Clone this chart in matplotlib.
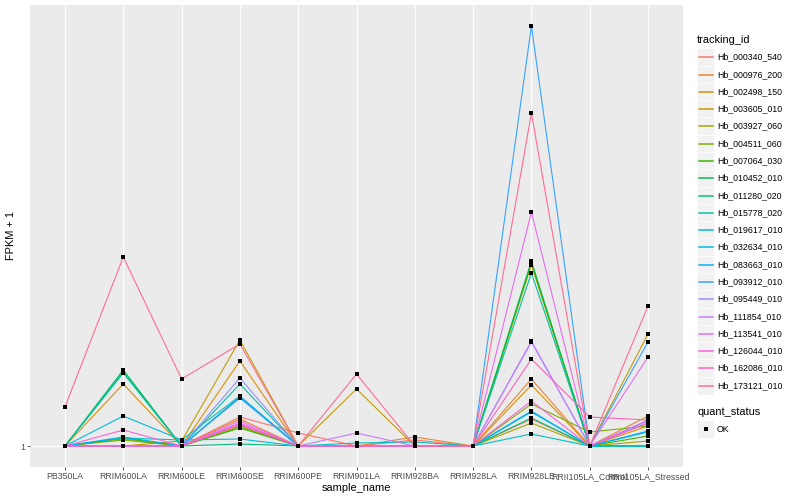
import numpy as np
import matplotlib
matplotlib.use("Agg")
import matplotlib.pyplot as plt
from matplotlib.lines import Line2D
from matplotlib.patches import Rectangle

plt.rcParams['font.family'] = ['Liberation Sans', 'DejaVu Sans']

samples = ["PB350LA", "RRIM600LA", "RRIM600LE", "RRIM600SE", "RRIM600PE",
           "RRIM901LA", "RRIM928BA", "RRIM928LA", "RRIM928LE",
           "RRII105LA_Control", "RRII105LA_Stressed"]

tracking_ids = ["Hb_000340_540", "Hb_000976_200", "Hb_002498_150", "Hb_003605_010",
                "Hb_003927_060", "Hb_004511_060", "Hb_007064_030", "Hb_010452_010",
                "Hb_011280_020", "Hb_015778_020", "Hb_019617_010", "Hb_032634_010",
                "Hb_083663_010", "Hb_093912_010", "Hb_095449_010", "Hb_111854_010",
                "Hb_113541_010", "Hb_126044_010", "Hb_162086_010", "Hb_173121_010"]

# ggplot hue palette, 20 levels
colors = ["#F8766D", "#EA8331", "#D89000", "#C09B00", "#A3A500", "#7CAE00",
          "#39B600", "#00BB4E", "#00BF7D", "#00C1A3", "#00BFC4", "#00BAE0",
          "#00B0F6", "#35A2FF", "#9590FF", "#C77CFF", "#E76BF3", "#FA62DB",
          "#FF62BC", "#FF6C91"]

# FPKM + 1, one row per tracking_id, columns follow samples
fpkm = [
    [1, 1, 1, 3.9, 2.3, 1, 1.6, 1, 3.7, 1, 3.3],
    [1, 1, 1, 3.7, 1, 1, 1.9, 1, 7.7, 1, 4.0],
    [1, 7.2, 1, 9.5, 1, 1, 1, 1, 7.1, 1, 3.0],
    [1, 1, 1.5, 11.6, 1, 6.7, 1, 1, 19.1, 1, 12.2],
    [1, 1.7, 1, 3.0, 1, 1, 1, 1, 3.3, 1, 1.5],
    [1, 1.6, 1, 2.9, 1, 1, 1, 1, 5.2, 2.4, 3.0],
    [1, 1.8, 1, 2.8, 1, 1, 1, 1, 19.3, 1, 2.0],
    [1, 8.6, 1, 5.9, 1, 1, 1, 1, 19.5, 1, 1],
    [1, 8.4, 1, 1.2, 1, 1, 1, 1, 3.8, 1, 1],
    [1, 8.3, 1, 7.2, 1, 1, 1, 1, 18.3, 1, 1],
    [1, 1.8, 1.6, 6.0, 1, 1.3, 1.4, 1, 2.2, 1, 1],
    [1, 4.0, 1.6, 1.7, 1, 1, 1, 1, 4.4, 1, 2.4],
    [1, 1.9, 1, 5.9, 1, 1, 1, 1, 4.5, 1, 2.5],
    [1, 1, 1, 5.8, 1, 1, 1, 1, 43.0, 1, 11.4],
    [1, 1, 1, 7.8, 1, 1, 1, 1, 11.4, 1, 3.5],
    [1, 1, 1, 3.3, 1, 2.3, 1, 1, 11.5, 1, 3.6],
    [1, 1, 1, 3.5, 1, 1, 1, 1, 24.4, 1, 9.9],
    [1, 2.6, 1, 3.1, 1, 1, 1, 1, 5.5, 1, 3.3],
    [1, 1, 1, 3.2, 1, 1, 1, 1, 9.7, 3.9, 3.6],
    [4.9, 19.9, 7.7, 11.2, 1, 8.2, 1, 1, 34.3, 1, 15.0],
]

W, H = 800, 500
fig = plt.figure(figsize=(W / 72, H / 72), dpi=72)
fig.patch.set_facecolor("white")

# panel in pixels: x 30..683, y 5..467
ax = fig.add_axes([30 / W, (H - 467) / H, (683 - 30) / W, (467 - 5) / H])
ax.set_facecolor("#EBEBEB")

x = np.arange(len(samples))
for vals, col in zip(fpkm, colors):
    ax.plot(x, vals, color=col, lw=1.1, zorder=2)
for vals in fpkm:
    ax.plot(x, vals, ls="none", marker="s", ms=3.4, mew=0, color="black", zorder=3)

vmin = 1
vmax = max(max(r) for r in fpkm)
pad = (vmax - vmin) * 0.05
ax.set_ylim(vmin - pad, vmax + pad)
ax.set_xlim(-0.6, len(samples) - 0.4)

ax.set_xticks(x)
ax.set_xticklabels(samples)
ax.set_yticks([1])
ax.set_yticklabels(["1"])
ax.grid(True, color="white", lw=1.1, zorder=1)
ax.set_axisbelow(True)
for s in ax.spines.values():
    s.set_visible(False)
ax.tick_params(axis="both", length=2.75, width=0.8, color="#333333",
               labelsize=8.8, labelcolor="#4D4D4D", pad=2.2)

ax.set_xlabel("sample_name", fontsize=11, color="black", labelpad=2)
ax.set_ylabel("FPKM + 1", fontsize=11, color="black", labelpad=4)

# legend, drawn in figure pixel coordinates
def px(xp, yp):
    return xp / W, (H - yp) / H

fig.text(*px(697, 40), "tracking_id", fontsize=11, va="center", ha="left")
key_w = 17.28
y0 = 57.3
for i, (tid, col) in enumerate(zip(tracking_ids, colors)):
    yc = round(y0 + i * key_w)
    fig.add_artist(Rectangle(px(697, yc + key_w / 2), key_w / W, key_w / H,
                             transform=fig.transFigure, facecolor="#F2F2F2",
                             edgecolor="white", lw=0.8, zorder=1))
    fig.add_artist(Line2D([698.5 / W, 712.5 / W], [(H - yc) / H] * 2,
                          transform=fig.transFigure, color=col, lw=1.5, zorder=3))
    fig.text(*px(717, yc), tid, fontsize=8.8, va="center", ha="left")

fig.text(*px(697, 412), "quant_status", fontsize=11, va="center", ha="left")
yc = 429
fig.add_artist(Rectangle(px(697, yc + key_w / 2), key_w / W, key_w / H,
                         transform=fig.transFigure, facecolor="#F2F2F2",
                         edgecolor="white", lw=0.8, zorder=1))
fig.add_artist(Line2D([705.6 / W], [(H - yc) / H], transform=fig.transFigure,
                      ls="none", marker="s", ms=3.4, mew=0, color="black", zorder=3))
fig.text(*px(717, yc), "OK", fontsize=8.8, va="center", ha="left")

fig.savefig("out.png", dpi=72)
